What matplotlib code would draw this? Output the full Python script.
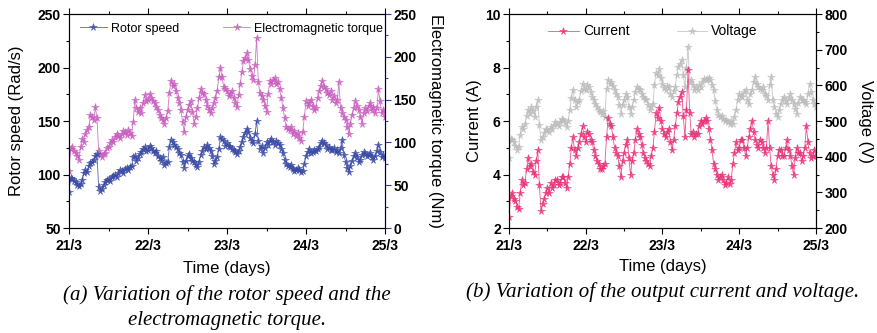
import matplotlib
matplotlib.use("Agg")
import matplotlib.pyplot as plt
from matplotlib.ticker import MultipleLocator, FixedLocator
import numpy as np

plt.rcParams['font.family'] = ['Liberation Sans', 'DejaVu Sans']

# half-hourly samples, 21/3 00:00 -> 25/3 00:00 (time in hours)
hours = np.arange(0, 96.5, 0.5)
day_ticks = [0, 24, 48, 72, 96]
day_labels = ['21/3', '22/3', '23/3', '24/3', '25/3']

rotor_speed = [
    84, 97, 96, 94, 93, 90, 89, 91, 95, 101, 104, 102,
    108, 111, 112, 114, 117, 119, 88, 85, 86, 90, 93, 95,
    96, 94, 98, 99, 100, 98, 101, 104, 103, 101, 105, 106,
    104, 107, 108, 116, 117, 113, 115, 119, 121, 124, 126, 122,
    123, 127, 125, 122, 120, 122, 117, 115, 113, 116, 109, 111,
    112, 126, 132, 130, 128, 126, 124, 120, 118, 112, 106, 113,
    117, 119, 115, 113, 112, 109, 107, 112, 118, 122, 126, 124,
    128, 125, 122, 117, 110, 113, 116, 124, 135, 133, 131, 127,
    129, 127, 126, 124, 123, 121, 119, 122, 126, 130, 135, 139,
    143, 140, 134, 131, 129, 138, 150, 131, 124, 127, 120, 125,
    130, 128, 131, 133, 130, 128, 131, 129, 128, 124, 120, 114,
    110, 108, 107, 109, 105, 103, 104, 106, 104, 102, 103, 110,
    117, 121, 124, 120, 121, 123, 122, 124, 126, 129, 131, 129,
    128, 124, 126, 123, 123, 125, 121, 123, 120, 125, 132, 118,
    112, 106, 102, 108, 113, 117, 120, 116, 112, 114, 118, 121,
    119, 117, 118, 120, 116, 114, 117, 122, 128, 121, 116, 118,
    115]
torque = [
    67, 92, 95, 90, 88, 84, 80, 95, 104, 101, 110, 114,
    118, 132, 130, 126, 141, 128, 90, 85, 83, 86, 88, 93,
    95, 99, 103, 100, 106, 110, 108, 105, 110, 113, 112, 109,
    114, 111, 108, 124, 150, 140, 136, 140, 134, 146, 155, 148,
    150, 156, 152, 148, 146, 141, 138, 132, 129, 126, 122, 128,
    137, 158, 172, 166, 168, 160, 152, 146, 138, 124, 112, 130,
    138, 144, 148, 136, 122, 130, 140, 152, 162, 158, 156, 150,
    142, 138, 134, 140, 146, 152, 160, 176, 187, 176, 165, 162,
    160, 154, 157, 160, 152, 146, 141, 155, 168, 182, 195, 199,
    204, 196, 186, 178, 173, 190, 222, 170, 158, 154, 150, 143,
    136, 156, 172, 168, 173, 175, 168, 170, 162, 152, 140, 128,
    118, 116, 114, 118, 110, 113, 108, 111, 105, 102, 112, 130,
    148, 142, 146, 150, 143, 138, 140, 152, 160, 166, 172, 165,
    162, 158, 155, 160, 150, 154, 146, 150, 170, 140, 134, 130,
    126, 118, 110, 122, 132, 140, 148, 142, 138, 130, 122, 134,
    140, 137, 142, 146, 138, 141, 134, 140, 162, 148, 134, 138,
    130]
current = [
    2.4, 3.2, 3.3, 3.1, 3.0, 2.8, 2.7, 3.3, 3.8, 3.6, 3.7, 4.2,
    4.6, 4.3, 4.4, 4.1, 4.0, 4.5, 4.9, 3.6, 2.65, 2.9, 3.1, 3.3,
    3.5, 3.3, 3.7, 3.5, 3.6, 3.8, 3.8, 3.6, 3.7, 3.9, 3.9, 3.7,
    3.5, 3.9, 4.4, 5.0, 5.4, 4.9, 4.7, 5.0, 5.2, 5.5, 5.8, 5.4,
    5.2, 5.6, 5.5, 5.3, 5.2, 4.9, 4.7, 4.5, 4.4, 4.2, 4.2, 4.3,
    4.4, 5.4, 6.1, 5.9, 5.8, 5.4, 5.0, 4.8, 4.7, 4.3, 3.9, 4.5,
    4.8, 5.1, 5.3, 4.6, 4.0, 4.5, 4.8, 5.3, 5.7, 5.5, 5.4, 5.1,
    4.8, 4.6, 4.5, 4.4, 4.3, 4.7, 5.0, 5.6, 6.3, 6.1, 6.5, 6.0,
    5.7, 5.5, 5.4, 5.6, 5.7, 5.2, 4.9, 5.3, 5.8, 6.3, 6.7, 6.9,
    7.1, 6.2, 5.4, 6.4, 7.9, 6.3, 5.5, 5.6, 5.4, 5.5, 5.5, 5.8,
    6.0, 5.9, 6.0, 6.1, 6.0, 5.7, 5.3, 4.9, 4.4, 4.2, 4.0, 3.8,
    3.9, 4.0, 3.8, 3.6, 3.7, 3.9, 3.65, 3.8, 4.4, 4.8, 5.2, 4.9,
    5.0, 5.3, 5.3, 5.0, 4.7, 5.0, 5.4, 5.7, 6.0, 5.6, 5.3, 5.1,
    5.0, 5.3, 5.2, 5.0, 4.8, 5.0, 6.0, 5.0, 4.3, 4.0, 3.8, 4.2,
    4.7, 4.9, 4.9, 4.7, 4.7, 5.0, 5.3, 4.9, 4.7, 4.3, 4.0, 4.6,
    5.0, 4.8, 4.8, 4.5, 4.7, 5.0, 5.8, 5.2, 4.8, 4.6, 4.7, 4.9,
    4.7]
voltage = [
    395, 450, 446, 440, 430, 420, 427, 460, 484, 478, 493, 515,
    530, 522, 540, 528, 512, 540, 559, 490, 446, 455, 465, 478,
    474, 468, 484, 478, 488, 496, 493, 486, 498, 505, 502, 495,
    484, 500, 530, 565, 587, 560, 540, 552, 560, 585, 605, 590,
    587, 600, 596, 580, 568, 560, 548, 540, 530, 526, 521, 528,
    512, 590, 615, 605, 610, 598, 587, 575, 568, 545, 521, 545,
    559, 575, 568, 540, 521, 540, 559, 580, 596, 590, 587, 575,
    568, 562, 559, 545, 530, 540, 548, 600, 634, 628, 647, 620,
    605, 592, 587, 598, 596, 575, 568, 585, 596, 628, 652, 660,
    671, 630, 596, 650, 708, 610, 615, 600, 587, 595, 587, 600,
    596, 610, 619, 614, 619, 622, 615, 600, 587, 555, 530, 518,
    512, 515, 507, 500, 502, 498, 493, 500, 493, 510, 530, 560,
    577, 570, 568, 580, 587, 560, 548, 575, 587, 610, 624, 605,
    596, 590, 587, 595, 577, 570, 559, 600, 624, 560, 540, 520,
    512, 530, 548, 560, 568, 555, 548, 565, 577, 560, 548, 535,
    521, 550, 568, 560, 559, 552, 548, 575, 605, 580, 559, 548,
    540]

BLUE = '#3a4ba6'
MAGENTA = '#c95fc0'
PINK = '#e8337a'
GREY = '#bdbdbd'
AXIS_BLUE = '#2f3fa0'

fig = plt.figure(figsize=(8.77, 3.33), dpi=100)

tick_font = dict(fontsize=10, fontweight='bold')
label_fs = 12
caption_font = dict(family='Liberation Serif', style='italic', fontsize=15)


def style_x(ax, pad):
    ax.set_xlim(0, 96)
    ax.xaxis.set_major_locator(FixedLocator(day_ticks))
    ax.xaxis.set_minor_locator(MultipleLocator(12))
    ax.set_xticklabels(day_labels, **tick_font)
    ax.set_xlabel('Time (days)', fontsize=label_fs, labelpad=pad)
    ax.tick_params(axis='x', which='both', direction='out', top=True)
    ax.tick_params(axis='x', which='major', length=4, width=0.8, pad=4)
    ax.tick_params(axis='x', which='minor', length=2.5, width=0.8)


def series(ax, y, color, label):
    return ax.plot(hours, y, color=color, lw=0.6, alpha=0.85, marker='*',
                   markersize=5.5, markeredgewidth=0.4, markerfacecolor=color,
                   markeredgecolor=color, label=label)[0]


# ---- (a) rotor speed / electromagnetic torque ----
ax1 = fig.add_axes([0.0787, 0.3153, 0.3603, 0.6426])
ax1b = ax1.twinx()
l1 = series(ax1, rotor_speed, BLUE, 'Rotor speed')
l2 = series(ax1b, torque, MAGENTA, 'Electromagnetic torque')
ax1.set_zorder(ax1b.get_zorder() + 1)
ax1.patch.set_visible(False)

style_x(ax1, 6)
ax1.set_ylim(50, 250)
ax1.set_yticks([50, 100, 150, 200, 250])
ax1.set_yticklabels(['50', '100', '150', '200', '250'], **tick_font)
ax1.yaxis.set_minor_locator(MultipleLocator(25))
ax1.tick_params(axis='y', which='major', direction='out', length=4, width=0.8, pad=2)
ax1.tick_params(axis='y', which='minor', direction='out', length=2.5, width=0.8)
ax1.set_ylabel('Rotor speed (Rad/s)', fontsize=label_fs, labelpad=10)

ax1b.set_ylim(0, 250)
ax1b.set_yticks([0, 50, 100, 150, 200, 250])
ax1b.set_yticklabels(['0', '50', '100', '150', '200', '250'], **tick_font)
ax1b.yaxis.set_minor_locator(MultipleLocator(25))
ax1b.tick_params(axis='y', which='both', direction='out', colors=AXIS_BLUE, width=0.8)
ax1b.tick_params(axis='y', which='major', length=4, labelcolor='black', pad=2)
ax1b.tick_params(axis='y', which='minor', length=2.5)
ax1b.spines['right'].set_color(AXIS_BLUE)
ax1b.set_ylabel('Electromagnetic torque (Nm)', fontsize=label_fs, rotation=270, labelpad=19)
for sp in ax1.spines.values():
    sp.set_linewidth(0.8)
ax1b.spines['right'].set_linewidth(0.8)

ax1.legend([l1, l2], ['Rotor speed', 'Electromagnetic torque'], ncol=2, frameon=False,
           fontsize=9, loc='upper left', bbox_to_anchor=(0.01, 0.995), handlelength=2.2,
           handletextpad=0.3, columnspacing=3.5, borderaxespad=0.2)

fig.text(0.2588, 0.113, '(a) Variation of the rotor speed and the', ha='center', va='center',
         **caption_font)
fig.text(0.2588, 0.038, 'electromagnetic torque.', ha='center', va='center', **caption_font)

# ---- (b) output current / voltage ----
ax2 = fig.add_axes([0.5804, 0.3153, 0.3500, 0.6426])
ax2b = ax2.twinx()
l3 = series(ax2, current, PINK, 'Current')
l4 = series(ax2b, voltage, GREY, 'Voltage')
ax2.set_zorder(ax2b.get_zorder() + 1)
ax2.patch.set_visible(False)

style_x(ax2, 4)
ax2.set_ylim(2, 10)
ax2.set_yticks([2, 4, 6, 8, 10])
ax2.set_yticklabels(['2', '4', '6', '8', '10'], **tick_font)
ax2.yaxis.set_minor_locator(MultipleLocator(1))
ax2.tick_params(axis='y', which='major', direction='out', length=4, width=0.8, pad=2)
ax2.tick_params(axis='y', which='minor', direction='out', length=2.5, width=0.8)
ax2.set_ylabel('Current (A)', fontsize=label_fs, labelpad=2)

ax2b.set_ylim(200, 800)
ax2b.set_yticks([200, 300, 400, 500, 600, 700, 800])
ax2b.set_yticklabels(['200', '300', '400', '500', '600', '700', '800'], **tick_font)
ax2b.yaxis.set_minor_locator(MultipleLocator(50))
ax2b.tick_params(axis='y', which='major', direction='out', length=4, width=0.8, pad=2)
ax2b.tick_params(axis='y', which='minor', direction='out', length=2.5, width=0.8)
ax2b.set_ylabel('Voltage (V)', fontsize=label_fs, rotation=270, labelpad=18)
for sp in list(ax2.spines.values()) + [ax2b.spines['right']]:
    sp.set_linewidth(0.8)

ax2.legend([l3, l4], ['Current', 'Voltage'], ncol=2, frameon=False,
           fontsize=10, loc='upper left', bbox_to_anchor=(0.1, 0.99), handlelength=2.2,
           handletextpad=0.3, columnspacing=3.4, borderaxespad=0.2)

fig.text(0.755, 0.123, '(b) Variation of the output current and voltage.', ha='center',
         va='center', **caption_font)

fig.savefig('out.png', dpi=100)
